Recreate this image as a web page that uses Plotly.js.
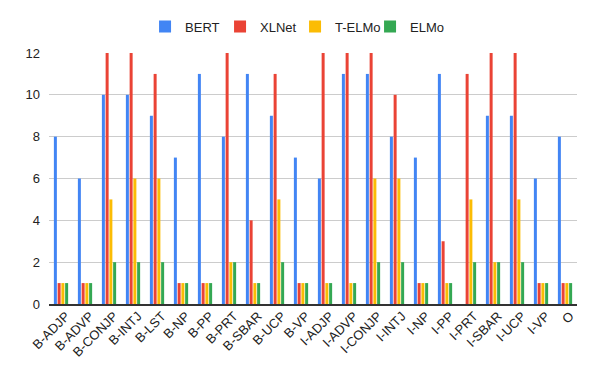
<!DOCTYPE html>
<html><head><meta charset="utf-8">
<script src="https://cdn.plot.ly/plotly-3.0.1.min.js"></script>
<style>html,body{margin:0;padding:0;background:#fff}#c{width:600px;height:371px}</style>
</head><body><div id="c"></div>
<script>
const categories = ["B-ADJP","B-ADVP","B-CONJP","B-INTJ","B-LST","B-NP","B-PP","B-PRT","B-SBAR","B-UCP","B-VP","I-ADJP","I-ADVP","I-CONJP","I-INTJ","I-NP","I-PP","I-PRT","I-SBAR","I-UCP","I-VP","O"];
const bert   = [8,6,10,10,9,7,11,8,11,9,7,6,11,11,8,7,11,0,9,9,6,8];
const xlnet  = [1,1,12,12,11,1,1,12,4,11,1,12,12,12,10,1,3,11,12,12,1,1];
const telmo  = [1,1,5,6,6,1,1,2,1,5,1,1,1,6,6,1,1,5,2,5,1,1];
const elmo   = [1,1,2,2,2,1,1,2,1,2,1,1,1,2,2,1,1,2,2,2,1,1];
const seriesNames = ["BERT","XLNet","T-ELMo","ELMo"];
const colors = ["#4285F4","#EA4335","#FBBC04","#34A853"];
const vals = [bert, xlnet, telmo, elmo];
const data = vals.map((v,i)=>({type:'bar', x:categories, y:v, name:seriesNames[i], marker:{color:colors[i]}}));
const layout = {
  width:600, height:371,
  margin:{l:49, r:23, t:51, b:67},
  barmode:'group', bargap:0.375, bargroupgap:0.2,
  font:{family:'Liberation Sans, Arial, sans-serif', size:13, color:'#222'},
  showlegend:true,
  legend:{orientation:'h', x:0.466, xanchor:'center', y:1.105, yanchor:'middle', font:{size:13, color:'#222'}, itemwidth:30, entrywidth:30, entrywidthmode:'pixels', traceorder:'normal'},
  xaxis:{tickangle:-45, showgrid:false, showline:true, linecolor:'#333', linewidth:1.5, ticks:'', automargin:false, ticklabelshift:5, ticklabelstandoff:-2, tickfont:{size:13, color:'#222'}},
  yaxis:{range:[0,12], dtick:2, gridcolor:'#ccc', zeroline:false, showline:false, ticks:'', automargin:false, tickfont:{size:13, color:'#222'}, ticklabelstandoff:8},
  plot_bgcolor:'#fff', paper_bgcolor:'#fff'
};
Plotly.newPlot('c', data, layout, {displayModeBar:false, staticPlot:true});
</script></body></html>
